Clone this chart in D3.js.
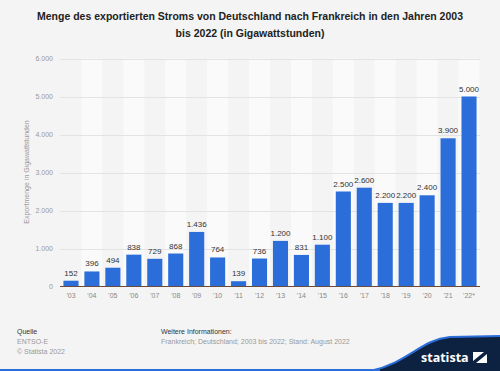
<!DOCTYPE html>
<html><head><meta charset="utf-8">
<script src="https://cdn.jsdelivr.net/npm/d3@7"></script>
<style>body{margin:0;background:#f4f4f4}svg{display:block;font-family:"Liberation Sans",Arial,sans-serif}</style>
</head><body>
<svg id="c" width="500" height="371"></svg>
<script>
const categories = ["'03","'04","'05","'06","'07","'08","'09","'10","'11","'12","'13","'14","'15","'16","'17","'18","'19","'20","'21","'22*"];
const values = [152,396,494,838,729,868,1436,764,139,736,1200,831,1100,2500,2600,2200,2200,2400,3900,5000];
const yTicks = [0,1000,2000,3000,4000,5000,6000];
const titleLines = ["Menge des exportierten Stroms von Deutschland nach Frankreich in den Jahren 2003","bis 2022 (in Gigawattstunden)"];

const svg = d3.select("#c");
const W = 500, H = 371;
svg.append("rect").attr("width",W).attr("height",H).attr("fill","#f4f4f4");

const x = d3.scaleBand().domain(categories).range([60.5,479.5]).paddingInner(0.28).paddingOuter(0.14);
const y = d3.scaleLinear().domain([0,6000]).range([286.5,58.5]);
const fmt = v => d3.format(",")(v).replace(/,/g,".");

// stripes
const step = x.step();
svg.append("g").selectAll("rect").data(categories.filter((d,i)=>i%2===1)).join("rect")
  .attr("x",d=>x(d)+x.bandwidth()/2-step/2).attr("width",step)
  .attr("y",y(6000)).attr("height",y(0)-y(6000)).attr("fill","#fafafa");

// grid
svg.append("g").selectAll("line").data(yTicks.filter(t=>t>0)).join("line")
  .attr("x1",60).attr("x2",480).attr("y1",d=>Math.round(y(d))+0.5).attr("y2",d=>Math.round(y(d))+0.5)
  .attr("stroke","#e3e3e3").attr("stroke-width",1);

// y tick labels
svg.append("g").selectAll("text").data(yTicks).join("text")
  .attr("x",53).attr("y",d=>y(d)+2.5).attr("text-anchor","end")
  .attr("font-size",7).attr("fill","#999").text(fmt);

// bars
svg.append("g").selectAll("rect").data(values).join("rect")
  .attr("x",(d,i)=>x(categories[i])).attr("width",x.bandwidth())
  .attr("y",d=>y(d)).attr("height",d=>y(0)-y(d)).attr("fill","#2b6dd9");

// baseline
svg.append("line").attr("x1",60).attr("x2",480).attr("y1",y(0)).attr("y2",y(0))
  .attr("stroke","#6b4a3a").attr("stroke-width",1);

// value labels
svg.append("g").selectAll("text").data(values).join("text")
  .attr("x",(d,i)=>x(categories[i])+x.bandwidth()/2).attr("y",d=>y(d)-5)
  .attr("text-anchor","middle").attr("font-size",8).attr("fill","#333").text(fmt);

// x labels
svg.append("g").selectAll("text").data(categories).join("text")
  .attr("x",d=>x(d)+x.bandwidth()/2).attr("y",298).attr("text-anchor","middle")
  .attr("font-size",7).attr("fill","#888").text(d=>d);

// y title
svg.append("text").attr("transform","translate(29,172) rotate(-90)").attr("text-anchor","middle")
  .attr("font-size",7).attr("fill","#999").text("Exportmenge in Gigawattstunden");

// title
svg.append("g").selectAll("text").data(titleLines).join("text")
  .attr("x",250).attr("y",(d,i)=>20+i*17).attr("text-anchor","middle")
  .attr("font-size",10.5).attr("font-weight","bold").attr("fill","#222").text(d=>d);

// footer
const f = svg.append("g").attr("font-size",7);
f.append("text").attr("x",17).attr("y",334).attr("fill","#333").text("Quelle");
f.append("text").attr("x",17).attr("y",344).attr("fill","#999").text("ENTSO-E");
f.append("text").attr("x",17).attr("y",354).attr("fill","#999").text("© Statista 2022");
f.append("text").attr("x",161).attr("y",334).attr("fill","#333").text("Weitere Informationen:");
f.append("text").attr("x",161).attr("y",344).attr("fill","#999").text("Frankreich; Deutschland; 2003 bis 2022; Stand: August 2022");

// logo
svg.append("path").attr("d","M370,371 C410,362 420,340 450,337 L500,336 L500,371 Z").attr("fill","#0d2240");
svg.append("path").attr("d","M370,371 C410,362 420,340 450,337 L500,336").attr("fill","none").attr("stroke","#2b6dd9").attr("stroke-width",2);
svg.append("rect").attr("x",0).attr("y",369).attr("width",380).attr("height",2).attr("fill","#2b6dd9");
svg.append("text").attr("x",421).attr("y",362).attr("font-size",12.5).attr("font-weight","bold").attr("fill","#fff").attr("font-family","'Open Sans',sans-serif").text("statista");
svg.append("path").attr("d","M473,352 L484,352 L473,361 Z M476,363 L487,354 L487,363 Z").attr("fill","#fff");
</script>
</body></html>
